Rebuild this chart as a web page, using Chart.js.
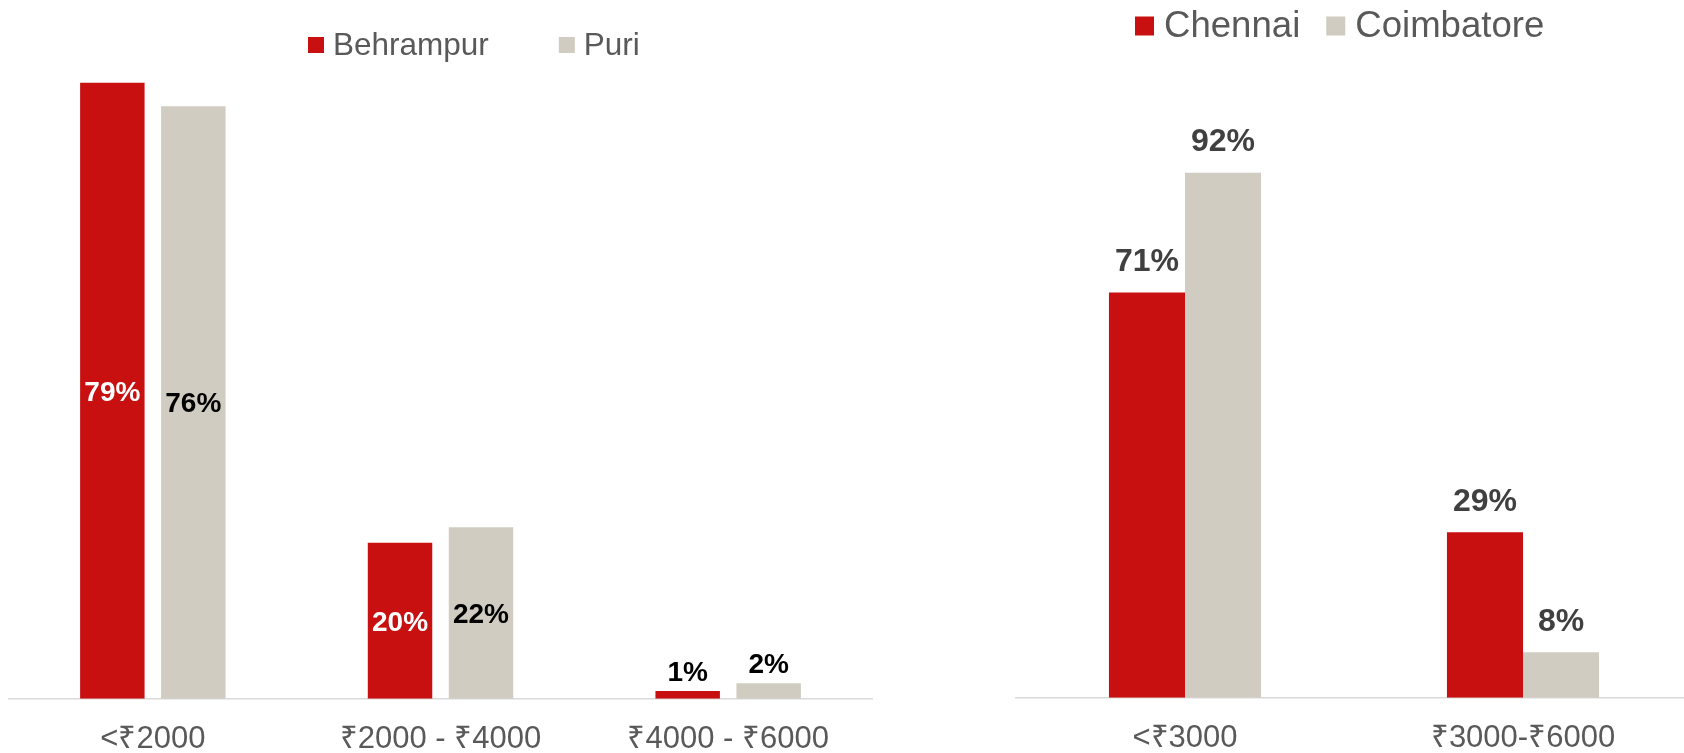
<!DOCTYPE html>
<html lang="en">
<head>
<meta charset="UTF-8">
<title>Monthly spend split</title>
<script src="https://cdn.jsdelivr.net/npm/chart.js"></script>
<style>
  html, body { margin: 0; padding: 0; background: #ffffff; overflow: hidden; }
  #wrap { position: relative; width: 1684px; height: 753px; overflow: hidden; }
  #left-chart { position: absolute; left: 0; top: 0; }
  #right-chart { position: absolute; left: 1000px; top: 0; }
</style>
</head>
<body>
<div id="wrap">
  <canvas id="left-chart" width="880" height="781"></canvas>
  <canvas id="right-chart" width="692" height="781"></canvas>
</div>
<script>
  // Odisha towns
  const oddCategories = ['<₹2000', '₹2000 - ₹4000', '₹4000 - ₹6000'];
  const behrampur = [79, 20, 1];
  const puri = [76, 22, 2];

  // Tamil Nadu towns
  const tnCategories = ['<₹3000', '₹3000-₹6000'];
  const chennai = [71, 29];
  const coimbatore = [92, 8];

  const RED = '#C81010';
  const STONE = '#D0CCC2';
  const FONT = "'Liberation Sans', Arial, sans-serif";

  // simple legend drawn in the top padding, one row
  const rowLegend = {
    id: 'rowLegend',
    afterDraw(chart, args, opts) {
      const ctx = chart.ctx;
      ctx.save();
      ctx.font = opts.size + 'px ' + FONT;
      ctx.textBaseline = 'middle';
      ctx.textAlign = 'left';
      let x = opts.x;
      chart.data.datasets.forEach(ds => {
        ctx.fillStyle = ds.backgroundColor;
        ctx.fillRect(x, opts.y - opts.box / 2, opts.box, opts.box);
        x += opts.box + opts.gap;
        ctx.fillStyle = '#595959';
        ctx.fillText(ds.label, x, opts.y + 1);
        x += ctx.measureText(ds.label).width + opts.spacing;
      });
      ctx.restore();
    }
  };

  // percentage labels on the bars
  const barValues = {
    id: 'barValues',
    afterDatasetsDraw(chart, args, opts) {
      const ctx = chart.ctx;
      ctx.save();
      ctx.font = 'bold ' + opts.size + 'px ' + FONT;
      ctx.textAlign = 'center';
      ctx.textBaseline = 'middle';
      chart.data.datasets.forEach((ds, di) => {
        const meta = chart.getDatasetMeta(di);
        meta.data.forEach((bar, i) => {
          const v = ds.data[i];
          let y, color;
          if (opts.inside && v >= opts.minInside) {
            y = (bar.y + bar.base) / 2 + 2;
            color = opts.insideColors[di];
          } else {
            y = bar.y - opts.above;
            color = opts.color;
          }
          ctx.fillStyle = color;
          ctx.fillText(v + '%', bar.x, y);
        });
      });
      ctx.restore();
    }
  };

  function xAxis() {
    return {
      grid: { display: false, drawTicks: false },
      border: { display: true, color: '#D9D9D9', width: 1.5 },
      ticks: {
        color: '#595959',
        padding: 22,
        maxRotation: 0,
        autoSkip: false,
        font: { family: FONT, size: 31, lineHeight: 1.2 }
      }
    };
  }

  new Chart(document.getElementById('left-chart'), {
    type: 'bar',
    data: {
      labels: oddCategories,
      datasets: [
        { label: 'Behrampur', data: behrampur, backgroundColor: RED,
          categoryPercentage: 0.563, barPercentage: 0.796 },
        { label: 'Puri', data: puri, backgroundColor: STONE,
          categoryPercentage: 0.563, barPercentage: 0.796 }
      ]
    },
    options: {
      responsive: false,
      animation: false,
      devicePixelRatio: 1,
      layout: { padding: { left: 9, right: 8, top: 75, bottom: 1 } },
      scales: {
        x: xAxis(),
        y: { display: false, min: 0, max: 80 }
      },
      plugins: {
        legend: { display: false },
        tooltip: { enabled: false },
        rowLegend: { x: 308, y: 45, box: 16, gap: 9, spacing: 70, size: 31.5 },
        barValues: { size: 28, inside: true, minInside: 5,
          insideColors: ['#FFFFFF', '#000000'], color: '#000000', above: 18 }
      }
    },
    plugins: [rowLegend, barValues]
  });

  new Chart(document.getElementById('right-chart'), {
    type: 'bar',
    data: {
      labels: tnCategories,
      datasets: [
        { label: 'Chennai', data: chennai, backgroundColor: RED,
          categoryPercentage: 0.45, barPercentage: 1 },
        { label: 'Coimbatore', data: coimbatore, backgroundColor: STONE,
          categoryPercentage: 0.45, barPercentage: 1 }
      ]
    },
    options: {
      responsive: false,
      animation: false,
      devicePixelRatio: 1,
      layout: { padding: { left: 16, right: 0, top: 127, bottom: 2 } },
      scales: {
        x: xAxis(),
        y: { display: false, min: 0, max: 100 }
      },
      plugins: {
        legend: { display: false },
        tooltip: { enabled: false },
        rowLegend: { x: 135, y: 26, box: 19, gap: 10, spacing: 26, size: 36.6 },
        barValues: { size: 32, inside: false, color: '#404040', above: 30 }
      }
    },
    plugins: [rowLegend, barValues]
  });
</script>
</body>
</html>
